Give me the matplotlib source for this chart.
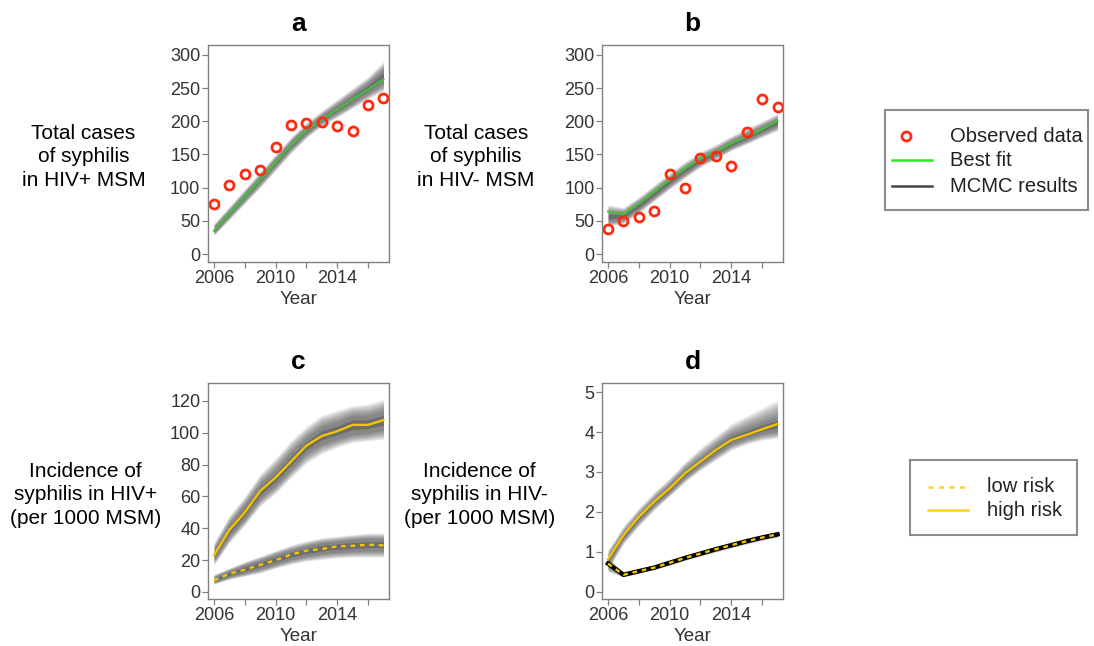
import matplotlib
matplotlib.use("Agg")
import matplotlib.pyplot as plt
import numpy as np

plt.rcParams['font.family'] = ['Liberation Sans', 'DejaVu Sans']

years = list(range(2006, 2018))

# Panel a: HIV+ total cases
a_obs = [75, 104, 121, 126, 161, 194, 197, 199, 193, 185, 225, 235]
a_fit = [35, 61, 86, 112, 138, 164, 186, 203, 218, 233, 248, 263]
a_out_lo = [28, 52, 76, 100, 126, 152, 175, 193, 206, 220, 234, 246]
a_out_hi = [46, 72, 98, 124, 150, 176, 198, 216, 233, 250, 267, 290]
a_in_lo = [32, 57, 82, 107, 133, 159, 181, 199, 213, 227, 242, 256]
a_in_hi = [41, 66, 92, 118, 144, 170, 192, 209, 225, 241, 258, 278]

# Panel b: HIV- total cases
b_obs = [38, 50, 56, 65, 121, 100, 144, 147, 132, 184, 234, 221]
b_fit = [64, 60, 76, 94, 112, 129, 144, 154, 167, 177, 188, 201]
b_out_lo = [42, 46, 62, 80, 98, 115, 131, 143, 156, 166, 176, 186]
b_out_hi = [74, 70, 86, 104, 122, 139, 154, 165, 178, 189, 200, 212]
b_in_lo = [49, 52, 68, 86, 104, 121, 137, 148, 161, 171, 182, 193]
b_in_hi = [64, 63, 79, 97, 115, 132, 147, 158, 171, 182, 193, 204]

# Panel c: incidence HIV+
c_high = [23, 39, 50, 63.5, 72, 82, 92, 98, 101, 105, 105, 108]
c_high_out_lo = [17, 31, 42, 54, 62, 72, 81, 87, 91, 94, 95, 96]
c_high_out_hi = [31, 48, 60, 74, 84, 95, 104, 111, 114, 117, 118, 121]
c_high_in_lo = [20, 35, 46, 59, 67, 77, 87, 93, 96, 99, 100, 102]
c_high_in_hi = [27, 43, 55, 68, 77, 88, 97, 104, 107, 111, 111, 114]
c_low = [7.3, 11.5, 14, 17, 20, 23.5, 26, 27, 28.7, 29, 29.7, 29.3]
c_low_out_lo = [5, 8, 10, 12, 15, 17.5, 19.5, 20.5, 21.5, 22, 22, 22]
c_low_out_hi = [11, 15, 19, 22.5, 26, 29.5, 32, 34, 35, 36, 37, 37]
c_low_in_lo = [6, 9.5, 12, 14.5, 17.5, 20.5, 22.5, 24, 25, 25.5, 26, 26]
c_low_in_hi = [9.5, 13.5, 17, 20, 23.5, 26.5, 29, 31, 32, 33, 33.5, 33.5]

# Panel d: incidence HIV-
d_high = [0.82, 1.42, 1.88, 2.26, 2.59, 2.97, 3.26, 3.55, 3.80, 3.93, 4.07, 4.20]
d_high_out_lo = [0.55, 1.2, 1.65, 2.05, 2.4, 2.75, 3.05, 3.3, 3.55, 3.7, 3.8, 3.85]
d_high_out_hi = [1.05, 1.65, 2.1, 2.5, 2.85, 3.25, 3.6, 3.9, 4.2, 4.4, 4.6, 4.8]
d_high_in_lo = [0.7, 1.33, 1.78, 2.17, 2.5, 2.87, 3.17, 3.44, 3.7, 3.83, 3.95, 4.02]
d_high_in_hi = [0.92, 1.5, 1.96, 2.35, 2.7, 3.08, 3.38, 3.68, 3.95, 4.1, 4.25, 4.38]
d_low = [0.71, 0.43, 0.52, 0.61, 0.73, 0.85, 0.96, 1.07, 1.17, 1.27, 1.36, 1.44]
d_low_out_lo = [0.5, 0.38, 0.47, 0.56, 0.67, 0.79, 0.9, 1.0, 1.1, 1.2, 1.29, 1.37]
d_low_out_hi = [0.85, 0.5, 0.58, 0.67, 0.79, 0.91, 1.03, 1.14, 1.25, 1.35, 1.44, 1.52]
d_low_in_lo = [0.62, 0.40, 0.49, 0.58, 0.70, 0.82, 0.93, 1.04, 1.14, 1.24, 1.33, 1.41]
d_low_in_hi = [0.78, 0.46, 0.55, 0.64, 0.76, 0.88, 0.99, 1.10, 1.20, 1.30, 1.39, 1.47]

xtick_vals = [2006, 2008, 2010, 2012, 2014, 2016]
xtick_labels = ['2006', '', '2010', '', '2014', '']

legend1_labels = ['Observed data', 'Best fit', 'MCMC results']
legend2_labels = ['low risk', 'high risk']

GREEN = '#45C13A'
GOLD = '#F2C500'
RED = '#FF2A10'
SPINE = '#808080'
TXT = '#333333'

fig = plt.figure(figsize=(10.94, 6.46), dpi=100)

W = 0.1655
ax_a = fig.add_axes([0.1901, 0.5944, W, 0.336])
ax_b = fig.add_axes([0.5503, 0.5944, W, 0.336])
ax_c = fig.add_axes([0.1901, 0.0728, W, 0.3343])
ax_d = fig.add_axes([0.5503, 0.0728, W, 0.3343])


def band(ax, olo, ohi, ilo, ihi, steps=7):
    olo, ohi, ilo, ihi = map(np.asarray, (olo, ohi, ilo, ihi))
    for k in range(steps):
        f = k / (steps - 1)
        lo = olo + (ilo - olo) * f
        hi = ohi + (ihi - ohi) * f
        ax.fill_between(years, lo, hi, color='#3a3a3a', alpha=0.12, lw=0)
    # dense core
    mid_lo = ilo + (ihi - ilo) * 0.25
    mid_hi = ihi - (ihi - ilo) * 0.25
    ax.fill_between(years, mid_lo, mid_hi, color='#222222', alpha=0.25, lw=0)


def style(ax, ylim, yticks, title, ylabel, ylabel_x, ylabel_dy):
    ax.set_xlim(2005.61, 2017.36)
    ax.set_ylim(*ylim)
    ax.set_xticks(xtick_vals)
    ax.set_xticklabels(xtick_labels)
    ax.set_yticks(yticks)
    ax.tick_params(direction='out', length=4, width=0.9, color=SPINE,
                   labelcolor=TXT, labelsize=13, pad=1.5)
    for s in ax.spines.values():
        s.set_color(SPINE)
        s.set_linewidth(1.0)
    ax.set_xlabel('Year', fontsize=13.5, color=TXT, labelpad=3)
    ax.set_title(title, fontsize=19, fontweight='bold', pad=10)
    pos = ax.get_position()
    fig.text(ylabel_x, (pos.y0 + pos.y1) / 2 + ylabel_dy, ylabel, ha='center',
             va='center', fontsize=15, color='black', linespacing=1.3)


# a
band(ax_a, a_out_lo, a_out_hi, a_in_lo, a_in_hi)
ax_a.plot(years, a_fit, color=GREEN, lw=1.5)
ax_a.plot(years, a_obs, 'o', mfc='none', mec=RED, mew=2, ms=6.5)
style(ax_a, (-12, 315), range(0, 301, 50), 'a',
      'Total cases\nof syphilis\nin HIV+ MSM', 0.0763, -0.005)

# b
band(ax_b, b_out_lo, b_out_hi, b_in_lo, b_in_hi)
ax_b.plot(years, b_fit, color=GREEN, lw=1.5)
ax_b.plot(years, b_obs, 'o', mfc='none', mec=RED, mew=2, ms=6.5)
style(ax_b, (-12, 315), range(0, 301, 50), 'b',
      'Total cases\nof syphilis\nin HIV- MSM', 0.435, -0.005)

# c
band(ax_c, c_high_out_lo, c_high_out_hi, c_high_in_lo, c_high_in_hi)
band(ax_c, c_low_out_lo, c_low_out_hi, c_low_in_lo, c_low_in_hi)
ax_c.plot(years, c_high, color=GOLD, lw=1.7)
ax_c.plot(years, c_low, color=GOLD, lw=1.7, ls=(0, (2, 2)))
style(ax_c, (-4.4, 131.3), range(0, 121, 20), 'c',
      'Incidence of\nsyphilis in HIV+\n(per 1000 MSM)', 0.078, -0.006)

# d
band(ax_d, d_high_out_lo, d_high_out_hi, d_high_in_lo, d_high_in_hi)
band(ax_d, d_low_out_lo, d_low_out_hi, d_low_in_lo, d_low_in_hi)
ax_d.plot(years, d_low, color='black', lw=3.2)
ax_d.plot(years, d_high, color=GOLD, lw=1.7)
ax_d.plot(years, d_low, color=GOLD, lw=1.7, ls=(0, (2, 2)))
style(ax_d, (-0.175, 5.225), range(0, 6), 'd',
      'Incidence of\nsyphilis in HIV-\n(per 1000 MSM)', 0.438, -0.006)


# legends drawn in their own framed axes (pixel coordinates of the box)
def legend_axes(x0, y0, x1, y1):
    lax = fig.add_axes([x0 / 1094, 1 - y1 / 646, (x1 - x0) / 1094, (y1 - y0) / 646])
    lax.set_xlim(x0, x1)
    lax.set_ylim(y1, y0)
    lax.set_xticks([])
    lax.set_yticks([])
    for s in lax.spines.values():
        s.set_color('#8c8c8c')
        s.set_linewidth(1.5)
    return lax


l1 = legend_axes(885, 110, 1088, 210)
l1.plot([906], [136], 'o', mfc='none', mec=RED, mew=2, ms=6.5)
l1.plot([892, 932], [160, 160], color='#22EE22', lw=1.8)
l1.plot([892, 932], [186, 186], color='#444444', lw=1.8)
for yy, lab in zip([136, 160, 186], legend1_labels):
    l1.text(950, yy, lab, fontsize=14.5, va='center', ha='left', color='#222222')

l2 = legend_axes(910, 460, 1077, 535)
l2.plot([928, 968], [487, 487], color='#FFD21A', lw=1.8, ls=(0, (2, 2.2)))
l2.plot([928, 968], [510, 510], color='#FFD21A', lw=1.8)
for yy, lab in zip([487, 510], legend2_labels):
    l2.text(987, yy, lab, fontsize=14.5, va='center', ha='left', color='#222222')

fig.savefig('out.png', dpi=100)
